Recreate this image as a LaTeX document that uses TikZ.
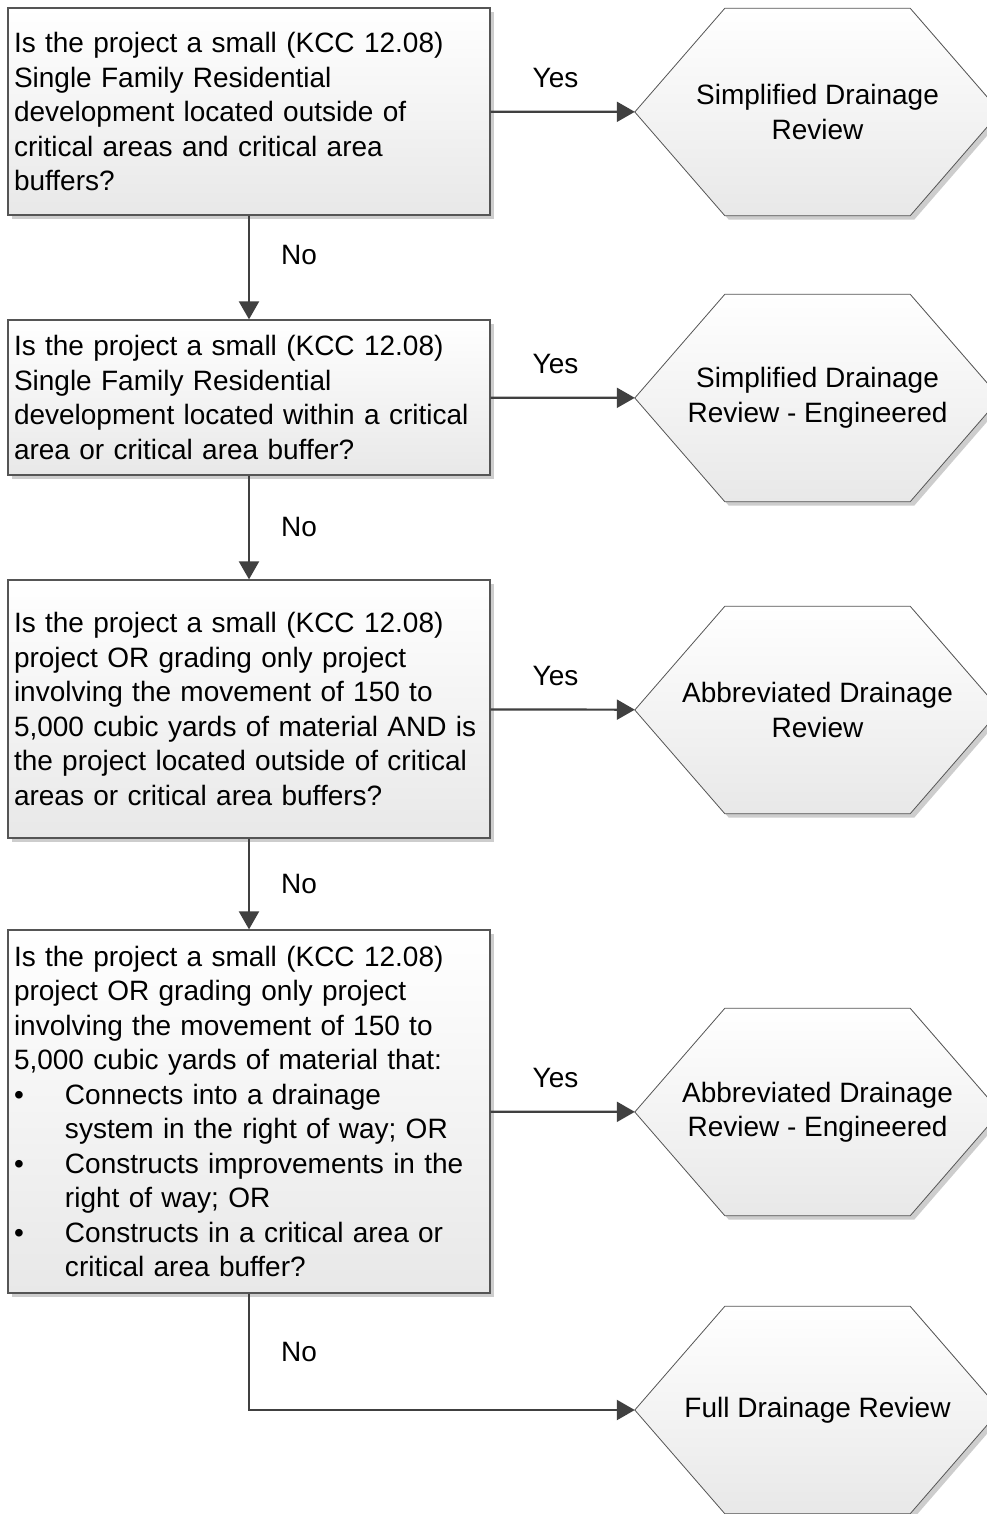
\documentclass[tikz,border=0pt]{standalone}
\usepackage{fontspec}
\setmainfont{Liberation Sans}
\usetikzlibrary{arrows.meta}
\usetikzlibrary{shadows}
\usetikzlibrary{backgrounds}
\definecolor{ColLine}{RGB}{64,64,64}
\definecolor{ColBorder}{RGB}{85,85,85}
\definecolor{ColFill}{RGB}{232,232,232}
\definecolor{ColShadow}{RGB}{205,205,205}
\tikzstyle{TextFont}=[font=\fontsize{28}{34.5}\selectfont]
\tikzstyle{QuestionBox}=[TextFont,rectangle,draw=ColBorder,line width=1.3pt,
top color=white,bottom color=ColFill,text width=470pt,inner xsep=6pt,inner ysep=7pt,align=left,
drop shadow={shadow xshift=4pt,shadow yshift=-4pt,fill=ColShadow,opacity=1}]
\tikzstyle{ResultBox}=[TextFont,rectangle,minimum width=365pt,minimum height=207pt,
inner sep=0pt,align=center]
\tikzstyle{HexGraph}=[draw=ColBorder,line width=0.8pt,top color=white,bottom color=ColFill,
drop shadow={shadow xshift=4pt,shadow yshift=-4pt,fill=ColShadow,opacity=1}]
\tikzstyle{EdgeArrow}=[ColLine,line width=2.2pt,-{Triangle[length=18pt,width=20pt]}]
\tikzstyle{EdgeLabel}=[TextFont,text=black,inner sep=0pt]

\begin{document}
\begin{tikzpicture}[x=1pt,y=-1pt]
        \useasboundingbox (0,0) rectangle (987,1514);
        % questions
        \node[QuestionBox,minimum height=207pt](q1)at(249,111.5){Is the project a small (KCC 12.08)\\
            Single Family Residential\\development located outside of\\
            critical areas and critical area\\buffers?};
        \node[QuestionBox,minimum height=155pt](q2)at(249,397.5){Is the project a small (KCC 12.08)\\
            Single Family Residential\\development located within a critical\\
            area or critical area buffer?};
        \node[QuestionBox,minimum height=258pt](q3)at(249,709){Is the project a small (KCC 12.08)\\
            project OR grading only project\\involving the movement of 150 to\\
            5,000 cubic yards of material AND is\\the project located outside of critical\\
            areas or critical area buffers?};
        \node[QuestionBox,minimum height=363pt](q4)at(249,1111.5){Is the project a small (KCC 12.08)\\
            project OR grading only project\\involving the movement of 150 to\\
            5,000 cubic yards of material that:\\
            \makebox[51pt][l]{\textbullet}Connects into a drainage\\
            \hspace*{51pt}system in the right of way; OR\\
            \makebox[51pt][l]{\textbullet}Constructs improvements in the\\
            \hspace*{51pt}right of way; OR\\
            \makebox[51pt][l]{\textbullet}Constructs in a critical area or\\
            \hspace*{51pt}critical area buffer?};
        % results
        \node[ResultBox](r1)at(817.5,112){Simplified Drainage\\Review};
        \node[ResultBox](r2)at(817.5,398){Simplified Drainage\\Review - Engineered};
        \node[ResultBox](r3)at(817.5,710){Abbreviated Drainage\\Review};
        \node[ResultBox](r4)at(817.5,1112){Abbreviated Drainage\\Review - Engineered};
        \node[ResultBox](r5)at(817.5,1410){Full Drainage Review};
        \begin{scope}[on background layer]
            \fill[white](0,0)rectangle(987,1514);
            \foreach \n in {r1,r2,r3,r4,r5}
                \draw[HexGraph](\n.west)--([xshift=90pt]\n.north west)--([xshift=-90pt]\n.north east)
                    --(\n.east)--([xshift=-90pt]\n.south east)--([xshift=90pt]\n.south west)--cycle;
        \end{scope}
        % connectors
        \draw[EdgeArrow](q1)--node[EdgeLabel,pos=0.45,yshift=34pt]{Yes}(r1);
        \draw[EdgeArrow](q2)--node[EdgeLabel,pos=0.45,yshift=34pt]{Yes}(r2);
        \draw[EdgeArrow](q3)--node[EdgeLabel,pos=0.45,yshift=34pt]{Yes}(r3);
        \draw[EdgeArrow](q4)--node[EdgeLabel,pos=0.45,yshift=34pt]{Yes}(r4);
        \draw[EdgeArrow](q1)--node[EdgeLabel,xshift=50pt,yshift=12pt]{No}(q2);
        \draw[EdgeArrow](q2)--node[EdgeLabel,xshift=50pt]{No}(q3);
        \draw[EdgeArrow](q3)--node[EdgeLabel,xshift=50pt]{No}(q4);
        \draw[EdgeArrow](q4)|-node[EdgeLabel,pos=0.25,xshift=50pt]{No}(r5);
    \end{tikzpicture}
\end{document}
